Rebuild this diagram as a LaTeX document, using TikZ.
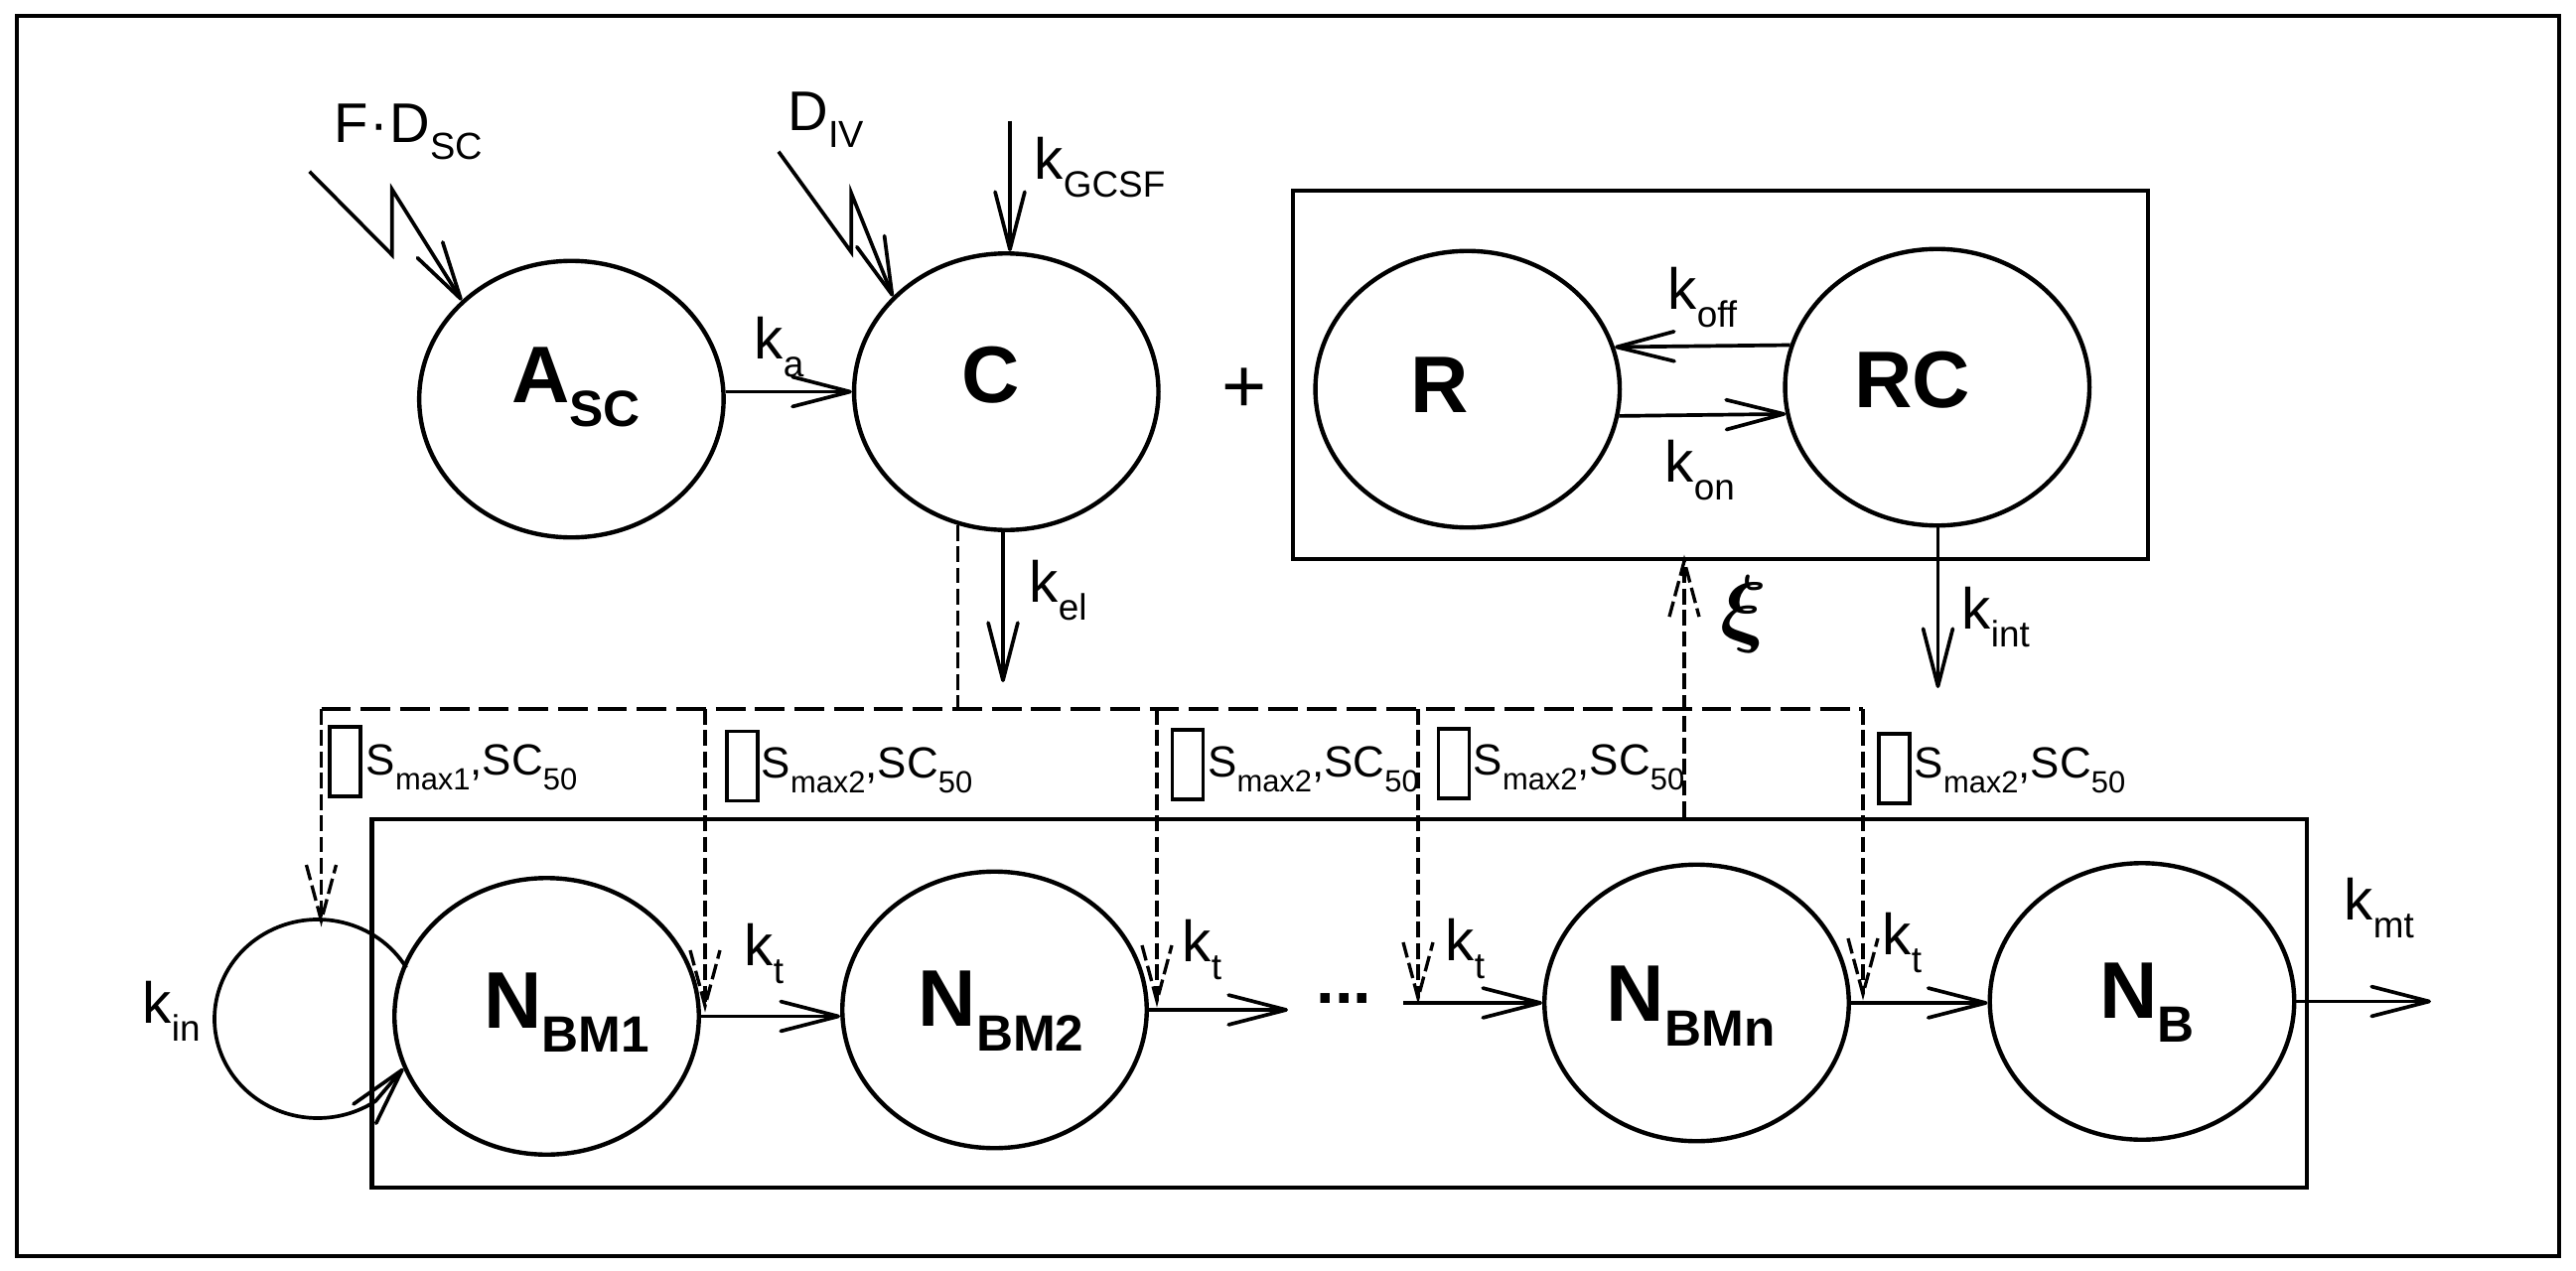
\documentclass[tikz,border=0pt]{standalone}
\usepackage{amsmath}
\usepackage{fontspec}
\setmainfont{Liberation Sans}
\usetikzlibrary{shapes.geometric,arrows.meta,calc}

% rate constant with subscript
\newcommand{\kk}[2]{{\fontsize{16.6}{18}\selectfont #1\raisebox{-5.2pt}{\fontsize{10.5}{12}\selectfont #2}}}
% bold compartment name with subscript
\newcommand{\cmp}[2]{{\fontsize{23}{26}\selectfont\bfseries #1\raisebox{-7.1pt}{\fontsize{14.6}{16}\selectfont #2}}}
% stimulation parameters
\newcommand{\smx}[1]{{\fontsize{12.5}{14}\selectfont S\raisebox{-4.3pt}{\fontsize{8.8}{10}\selectfont max#1},SC\raisebox{-4.3pt}{\fontsize{8.8}{10}\selectfont 50}}}
% dashed open arrowheads
\newcommand{\dtipdown}[1]{\draw[vdash] ($(#1)+(-15,-56)$) -- (#1) -- ($(#1)+(15,-56)$);}
\newcommand{\dtipup}[1]{\draw[vdash] ($(#1)+(-15,56)$) -- (#1) -- ($(#1)+(15,56)$);}

\begin{document}
\begin{tikzpicture}[x=0.1mm,y=-0.1mm,
  comp/.style={draw,ellipse,line width=1.25pt,minimum width=30.65mm,minimum height=27.85mm,inner sep=0pt},
  frame/.style={draw,line width=1.2pt,inner sep=0pt},
  arr/.style={line width=1.05pt,-{Straight Barb[length=16.5pt,width=8.5pt,round]}},
  vdash/.style={line width=0.95pt,dash pattern=on 4.5pt off 1.6pt},
  hdash/.style={line width=1.05pt,dash pattern=on 8.5pt off 2.8pt},
  gapbox/.style={draw,line width=0.9pt,minimum width=3.1mm,minimum height=7mm,inner sep=0pt},
  txt/.style={inner sep=0pt,anchor=base west},
  ctxt/.style={inner sep=0pt,anchor=base},
]
\useasboundingbox (0,0) rectangle (2594,1280);
\fill[white] (0,0) rectangle (2594,1280);

% frames
\node[frame,minimum width=256mm,minimum height=124.9mm] (border) at (1296.7,640.5) {};
\node[frame,minimum width=86.16mm,minimum height=37.1mm] (rbox) at (1732.5,377.5) {};
\node[frame,minimum width=194.88mm,minimum height=37.1mm] (bmbox) at (1348.9,1010.5) {};

% compartments
\node[comp] (A) at (575.4,402) {};
\node[comp] (C) at (1013.3,394.5) {};
\node[comp] (R) at (1477.8,392) {};
\node[comp] (RC) at (1950.8,390) {};
\node[comp] (N1) at (550.5,1023.5) {};
\node[comp] (N2) at (1001.5,1017) {};
\node[comp] (Nn) at (1708.5,1010) {};
\node[comp] (NB) at (2157,1008.5) {};

\node[ctxt] (Alab) at (580,405) {\cmp{A}{SC}};
\node[ctxt] (Clab) at (998,405) {\cmp{C}{}};
\node[ctxt] (Rlab) at (1450,415) {\cmp{R}{}};
\node[ctxt] (RClab) at (1926,410) {\cmp{RC}{}};
\node[ctxt] (N1lab) at (570.6,1035) {\cmp{N}{BM1}};
\node[ctxt] (N2lab) at (1008,1033.3) {\cmp{N}{BM2}};
\node[ctxt] (Nnlab) at (1702.7,1028.3) {\cmp{N}{BMn}};
\node[ctxt] (NBlab) at (2162,1025) {\cmp{N}{B}};

% doses and inputs
\coordinate (fd) at (311.6,172.7);
\draw[arr,line join=miter] (fd) -- ++(83.2,84) -- ++(0,-66) -- (A.138);
\node[txt] (fdlab) at (336,143) {\fontsize{16}{18}\selectfont F\kern0.4pt·\kern0.4pt D\raisebox{-5.1pt}{\fontsize{10.8}{12}\selectfont SC}};
\coordinate (dv) at (784,152.7);
\draw[arr,line join=miter] (dv) -- ++(73.3,101.3) -- ++(0,-59.3) -- (C.140);
\node[txt] (dvlab) at (793,131) {\fontsize{16}{18}\selectfont D\raisebox{-5.1pt}{\fontsize{10.8}{12}\selectfont IV}};
\coordinate (gcsf) at (1017,121.7);
\draw[arr] (gcsf) -- (gcsf |- C.north);
\node[txt] (gcsflab) at (1041,180) {\kk{k}{GCSF}};

% absorption
\draw[arr] (A.east |- C.west) -- (C.west);
\node[txt] (kalab) at (759,361.7) {\kk{k}{a}};

% elimination
\coordinate (kel) at (1010,687);
\draw[arr] (kel |- C.south) -- (kel);
\node[txt] (kellab) at (1036,606.7) {\kk{k}{el}};

\node (plus) at (1253,393) {\fontsize{22}{24}\selectfont +};

% receptor binding
\draw[arr] (RC.164) -- (R.16);
\node[txt] (kofflab) at (1679,311.7) {\kk{k}{off}};
\draw[arr] (R.-10) -- (RC.190);
\node[txt] (konlab) at (1676,485) {\kk{k}{on}};
\coordinate (kint) at (1951.5,693);
\draw[arr] (kint |- RC.south) -- (kint);
\node[txt] (kintlab) at (1975,633) {\kk{k}{int}};

% stimulation network
\coordinate (dL) at (323.5,714);
\coordinate (dR) at (1876,714);
\coordinate (kintop) at (323.5,927);
\coordinate (t1) at (710,1013);
\coordinate (t2) at (1165,1008);
\coordinate (t3) at (1428,1005);
\coordinate (t4) at (1876,1001);
\draw[hdash] (dL) -- (dR);
\draw[vdash] (C.250) -- (C.250 |- dL);
\draw[vdash] (dL) -- (kintop); \dtipdown{kintop}
\draw[vdash] (t1 |- dL) -- (t1); \dtipdown{t1}
\draw[vdash] (t2 |- dL) -- (t2); \dtipdown{t2}
\draw[vdash] (t3 |- dL) -- (t3); \dtipdown{t3}
\draw[vdash] (dR) -- (t4); \dtipdown{t4}

\coordinate (xix) at (1696,700);
\coordinate (xitip) at (rbox.south -| xix);
\draw[vdash] (bmbox.north -| xix) -- (xitip); \dtipup{xitip}
\node (xilab) at (1756.5,619) {\fontsize{24}{26}\selectfont$\boldsymbol{\xi}$};

\node[gapbox] (g1) at (347.5,767) {};
\node[txt] (s1) at (368,780) {\smx{1}};
\node[gapbox] (g2) at (747.5,771.5) {};
\node[txt] (s2) at (766,783) {\smx{2}};
\node[gapbox] (g3) at (1196,770) {};
\node[txt] (s3) at (1215.5,782) {\smx{2}};
\node[gapbox] (g4) at (1464,769) {};
\node[txt] (s4) at (1483,780) {\smx{2}};
\node[gapbox] (g5) at (1907.5,774) {};
\node[txt] (s5) at (1927,783) {\smx{2}};

% production loop
\coordinate (kin) at (320,1026);
\draw[arr] ($(kin)+(-31:104 and 100)$) arc[start angle=-31,end angle=-304,x radius=104,y radius=100] -- (N1.200);
\node[txt] (kinlab) at (143,1030) {\kk{k}{in}};

% maturation chain
\draw[arr] (N1.east) -- (N1.east -| N2.west);
\node[txt] (kt1) at (749,972.7) {\kk{k}{t}};
\coordinate (dotsin) at (1297,1013);
\draw[arr] (N2.east) -- (N2.east -| dotsin);
\node[txt] (kt2) at (1190,968.3) {\kk{k}{t}};
\node (dots) at (1353.5,1006) {\fontsize{19}{20}\selectfont\bfseries ...};
\coordinate (dotsout) at (1413,1010);
\draw[arr] (dotsout) -- (Nn.west);
\node[txt] (kt3) at (1455,967.3) {\kk{k}{t}};
\draw[arr] (Nn.east) -- (Nn.east -| NB.west);
\node[txt] (kt4) at (1895,961.7) {\kk{k}{t}};
\coordinate (kmt) at (2448,1008.5);
\draw[arr] (NB.east) -- (kmt);
\node[txt] (kmtlab) at (2360,926) {\kk{k}{mt}};
\end{tikzpicture}
\end{document}
